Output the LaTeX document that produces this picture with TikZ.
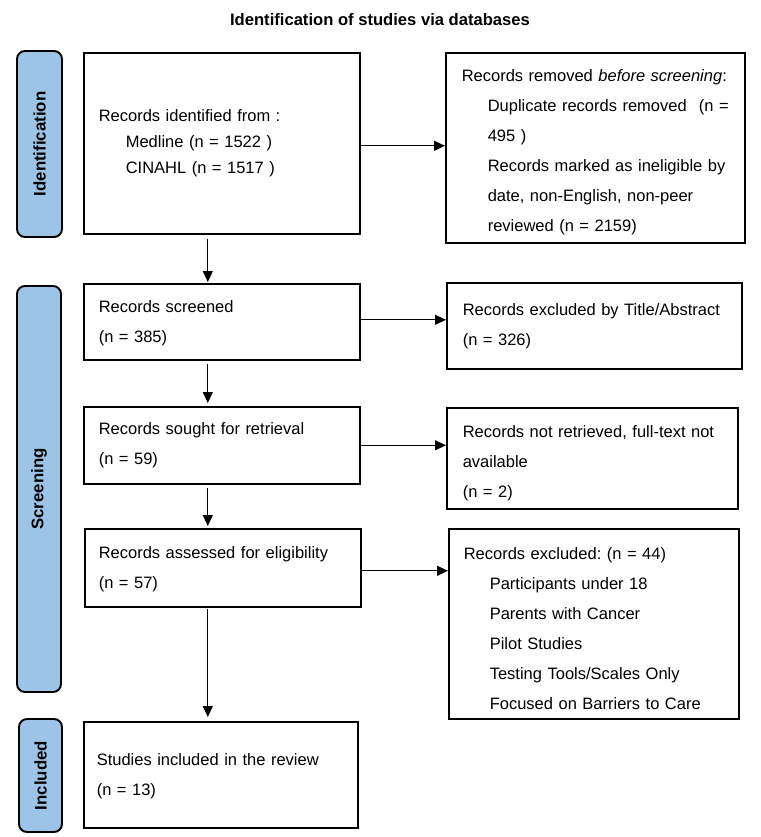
\documentclass[tikz,border=0pt]{standalone}
\usepackage{fontspec}
\setmainfont{Liberation Sans}
\usetikzlibrary{arrows.meta}
\definecolor{sideblue}{RGB}{157,195,230}
\frenchspacing
\begin{document}
\begin{tikzpicture}[x=1pt,y=-1pt,
  box/.style={draw=black, line width=1.6pt, anchor=north west, align=left,
    inner xsep=15pt, inner ysep=0pt, font=\fontsize{16.5pt}{30pt}\selectfont},
  side/.style={draw=black, line width=1.9pt, fill=sideblue, rounded corners=8pt,
    rotate=90, inner sep=0pt, font=\bfseries\fontsize{16.8pt}{19pt}\selectfont},
  arr/.style={-{Triangle[length=11pt,width=10pt]}, line width=1.2pt},
  ttl/.style={font=\bfseries\fontsize{16.6pt}{19pt}\selectfont, inner sep=0pt}]
\useasboundingbox (0,0) rectangle (760,837);
\fill[white] (0,0) rectangle (760,837);

\node[ttl] (title) at (380,19.5) {Identification of studies via databases};

% side labels
\node[side, minimum width=186pt, minimum height=45pt] (sideid) at (39.5,144) {Identification};
\node[side, minimum width=406pt, minimum height=44pt] (sidescr) at (39,489) {Screening};
\node[side, minimum width=113pt, minimum height=43pt] (sideinc) at (40.5,775.5) {Included};

% main boxes
\node[box, text width=246pt, minimum height=181pt, font=\fontsize{16.5pt}{26pt}\selectfont] (b1) at (83,52)
  {Records identified from :\\
   \hspace*{27pt}Medline (n = 1522 )\\
   \hspace*{27pt}CINAHL (n = 1517 )};

\node[box, inner xsep=16pt, text width=267pt, minimum height=190pt] (rem) at (445,52)
  {\rule{0pt}{20.5pt}Records removed \textit{before screening}:\\
   \hspace*{26pt}\makebox[241pt][l]{Duplicate records removed\hfill(n =}\\
   \hspace*{26pt}495 )\\
   \hspace*{26pt}\makebox[241pt][s]{Records marked as ineligible by}\\
   \hspace*{26pt}\makebox[241pt][s]{date, non-English, non-peer}\\
   \hspace*{26pt}reviewed (n = 2159)};

\node[box, text width=246pt, minimum height=76pt] (scr) at (83,283)
  {\rule{0pt}{15pt}Records screened\\(n = 385)};

\node[box, inner xsep=16pt, text width=263pt, minimum height=86pt] (tab) at (446,282)
  {Records excluded by Title/Abstract\\(n = 326)};

\node[box, text width=246pt, minimum height=77pt] (sou) at (83,406)
  {Records sought for retrieval\\(n = 59)};

\node[box, inner xsep=16pt, text width=259pt, minimum height=101pt] (nr) at (446,407)
  {\rule{0pt}{22.5pt}\makebox[259pt][s]{Records not retrieved, full-text not}\\
   available\\
   (n = 2)};

\node[box, inner xsep=14pt, text width=248pt, minimum height=78pt] (ass) at (84,528)
  {\rule{0pt}{15pt}Records assessed for eligibility\\(n = 57)};

\node[box, text width=260pt, minimum height=190pt] (ex) at (448,528)
  {\rule{0pt}{21.5pt}Records excluded: (n = 44)\\
   \hspace*{26pt}Participants under 18\\
   \hspace*{26pt}Parents with Cancer\\
   \hspace*{26pt}Pilot Studies\\
   \hspace*{26pt}Testing Tools/Scales Only\\
   \hspace*{26pt}Focused on Barriers to Care};

\node[box, inner xsep=13pt, text width=248pt, minimum height=106pt] (inc) at (83,721)
  {\rule{0pt}{15pt}Studies included in the review\\(n = 13)};

% horizontal connectors
\draw[arr] ([yshift=-2.5pt]b1.east) -- ([yshift=-2.5pt]b1.east -| rem.west);
\draw[arr] ([yshift=2pt]scr.east) -- ([yshift=2pt]scr.east -| tab.west);
\draw[arr] (sou.east) -- (sou.east -| nr.west);
\draw[arr] ([yshift=-3pt]ass.east) -- ([yshift=-3pt]ass.east -| ex.west);

% vertical connectors
\coordinate (v1) at ([xshift=-14pt]b1.south);
\coordinate (v2) at ([xshift=-14pt]scr.south);
\coordinate (v3) at ([xshift=-14pt]sou.south);
\coordinate (v4) at ([xshift=-15pt]ass.south);
\draw[arr, shorten <=4pt, shorten >=1pt] (v1) -- (v1 |- scr.north);
\draw[arr, shorten <=3pt, shorten >=3pt] (v2) -- (v2 |- sou.north);
\draw[arr, shorten <=3pt, shorten >=2pt] (v3) -- (v3 |- ass.north);
\draw[arr, shorten <=1pt, shorten >=4pt] (v4) -- (v4 |- inc.north);
\end{tikzpicture}
\end{document}
